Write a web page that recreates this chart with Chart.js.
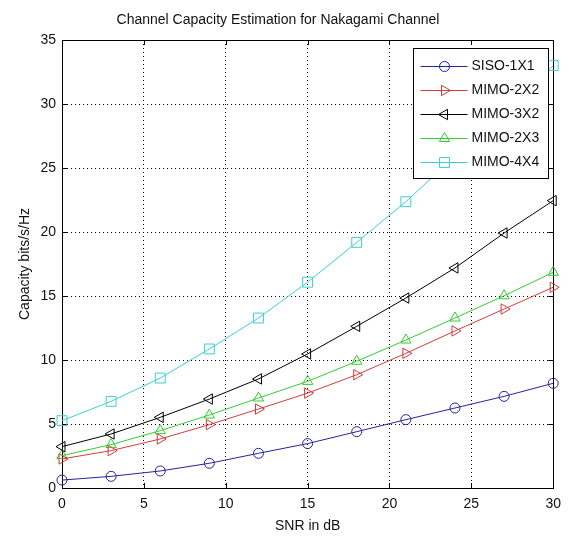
<!DOCTYPE html>
<html>
<head>
<meta charset="utf-8">
<title>Channel Capacity Estimation for Nakagami Channel</title>
<script src="https://cdn.jsdelivr.net/npm/chart.js@4.4.1/dist/chart.umd.min.js"></script>
<style>
  html, body { margin: 0; padding: 0; background: #fff; }
</style>
</head>
<body>
<canvas id="capacity" width="569" height="536"></canvas>
<script>
'use strict';

// SNR (dB) and capacity (bits/s/Hz)
var snrDb = [0, 3, 6, 9, 12, 15, 18, 21, 24, 27, 30];
var siso1x1 = [0.62, 0.91, 1.33, 1.93, 2.71, 3.47, 4.40, 5.34, 6.25, 7.16, 8.18];
var mimo2x2 = [2.27, 2.92, 3.83, 4.95, 6.17, 7.41, 8.85, 10.52, 12.27, 13.98, 15.68];
var mimo3x2 = [3.23, 4.22, 5.52, 6.95, 8.52, 10.47, 12.63, 14.84, 17.19, 19.92, 22.45];
var mimo2x3 = [2.53, 3.39, 4.48, 5.70, 7.03, 8.33, 9.90, 11.56, 13.28, 15.02, 16.85];
var mimo4x4 = [5.26, 6.77, 8.59, 10.86, 13.28, 16.08, 19.19, 22.37, 25.9, 29.4, 33.0];

var seriesNames = ['SISO-1X1', 'MIMO-2X2', 'MIMO-3X2', 'MIMO-2X3', 'MIMO-4X4'];
var xTickValues = [0, 5, 10, 15, 20, 25, 30];
var yTickValues = [0, 5, 10, 15, 20, 25, 30, 35];

var FONT = "'Liberation Sans', Arial, sans-serif";
var FONT_SIZE = 14;

function points(values) {
  return snrDb.map(function (x, i) {
    return { x: x, y: values[i] };
  });
}

function series(label, values, color, style, rotation, radius) {
  return {
    label: label,
    data: points(values),
    borderColor: color,
    backgroundColor: 'rgba(0,0,0,0)',
    borderWidth: 1,
    tension: 0,
    pointStyle: style,
    pointRotation: rotation,
    pointRadius: radius,
    pointBorderWidth: 1,
    pointBorderColor: color,
    pointBackgroundColor: 'rgba(0,0,0,0)',
    clip: false
  };
}

// Axes box with MATLAB-style inward ticks on all four sides.
var axesFrame = {
  id: 'axesFrame',
  beforeDatasetsDraw: function (chart) {
    var ctx = chart.ctx;
    var a = chart.chartArea;
    var xs = chart.scales.x;
    var ys = chart.scales.y;
    var len = 5;
    ctx.save();
    ctx.strokeStyle = '#000';
    ctx.lineWidth = 1;
    ctx.beginPath();
    xTickValues.forEach(function (v) {
      var px = Math.round(xs.getPixelForValue(v)) + 0.5;
      ctx.moveTo(px, a.bottom); ctx.lineTo(px, a.bottom - len);
      ctx.moveTo(px, a.top); ctx.lineTo(px, a.top + len);
    });
    yTickValues.forEach(function (v) {
      var py = Math.round(ys.getPixelForValue(v)) + 0.5;
      ctx.moveTo(a.left, py); ctx.lineTo(a.left + len, py);
      ctx.moveTo(a.right, py); ctx.lineTo(a.right - len, py);
    });
    ctx.stroke();
    ctx.strokeRect(Math.round(a.left) + 0.5, Math.round(a.top) + 0.5,
      Math.round(a.right - a.left), Math.round(a.bottom - a.top));
    ctx.restore();
  }
};

// Legend box inside the top-right corner, drawn over the lines.
var boxLegend = {
  id: 'boxLegend',
  afterDatasetsDraw: function (chart) {
    var ctx = chart.ctx;
    var a = chart.chartArea;
    var w = 135, h = 130;
    var left = Math.round(a.right - 5 - w) + 0.5;
    var top = Math.round(a.top + 8) + 0.5;
    ctx.save();
    ctx.fillStyle = '#fff';
    ctx.fillRect(left, top, w, h);
    ctx.strokeStyle = '#000';
    ctx.lineWidth = 1;
    ctx.strokeRect(left, top, w, h);
    chart.data.datasets.forEach(function (ds, i) {
      var y = Math.round(top + 17 + i * 24) + 0.5;
      ctx.strokeStyle = ds.borderColor;
      ctx.beginPath();
      ctx.moveTo(left + 7, y);
      ctx.lineTo(left + 54, y);
      ctx.stroke();
      ctx.fillStyle = 'rgba(0,0,0,0)';
      Chart.helpers.drawPoint(ctx, {
        pointStyle: ds.pointStyle,
        rotation: ds.pointRotation,
        radius: ds.pointRadius,
        borderWidth: 1
      }, left + 31, y);
      ctx.fillStyle = '#111';
      ctx.font = FONT_SIZE + 'px ' + FONT;
      ctx.textBaseline = 'middle';
      ctx.textAlign = 'left';
      ctx.fillText(ds.label, left + 58, y);
    });
    ctx.restore();
  }
};

var chart = new Chart(document.getElementById('capacity'), {
  type: 'line',
  data: {
    datasets: [
      series(seriesNames[0], siso1x1, '#24249a', 'circle', 0, 5),
      series(seriesNames[1], mimo2x2, '#d23c3c', 'triangle', 90, 6),
      series(seriesNames[2], mimo3x2, '#000000', 'triangle', -90, 6),
      series(seriesNames[3], mimo2x3, '#33cc33', 'triangle', 0, 6),
      series(seriesNames[4], mimo4x4, '#3ccfd2', 'rect', 0, 7)
    ]
  },
  options: {
    responsive: false,
    animation: false,
    events: [],
    layout: { padding: { left: 0, right: 13, top: 0, bottom: 0 } },
    plugins: {
      legend: { display: false },
      tooltip: { enabled: false },
      title: {
        display: true,
        text: 'Channel Capacity Estimation for Nakagami Channel',
        color: '#111',
        font: { family: FONT, size: FONT_SIZE, weight: 'normal' },
        padding: { top: 12, bottom: 11.2 }
      }
    },
    scales: {
      x: {
        type: 'linear',
        min: 0,
        max: 30,
        afterBuildTicks: function (scale) {
          scale.ticks = xTickValues.map(function (v) { return { value: v }; });
        },
        afterFit: function (scale) { scale.height = 48; },
        grid: { color: '#000', lineWidth: 1, drawTicks: false },
        border: { display: true, color: '#000', dash: [1, 3] },
        ticks: {
          color: '#111',
          padding: 8,
          maxRotation: 0,
          font: { family: FONT, size: FONT_SIZE }
        },
        title: {
          display: true,
          text: 'SNR in dB',
          color: '#111',
          font: { family: FONT, size: FONT_SIZE },
          padding: { top: 0, bottom: 1 }
        }
      },
      y: {
        type: 'linear',
        min: 0,
        max: 35,
        afterBuildTicks: function (scale) {
          scale.ticks = yTickValues.map(function (v) { return { value: v }; });
        },
        afterFit: function (scale) { scale.width = 62; },
        grid: { color: '#000', lineWidth: 1, drawTicks: false },
        border: { display: true, color: '#000', dash: [1, 3] },
        ticks: {
          color: '#111',
          padding: 6,
          font: { family: FONT, size: FONT_SIZE }
        },
        title: {
          display: true,
          text: 'Capacity bits/s/Hz',
          color: '#111',
          font: { family: FONT, size: FONT_SIZE },
          padding: { top: 17, bottom: 0 }
        }
      }
    }
  },
  plugins: [axesFrame, boxLegend]
});
</script>
</body>
</html>
